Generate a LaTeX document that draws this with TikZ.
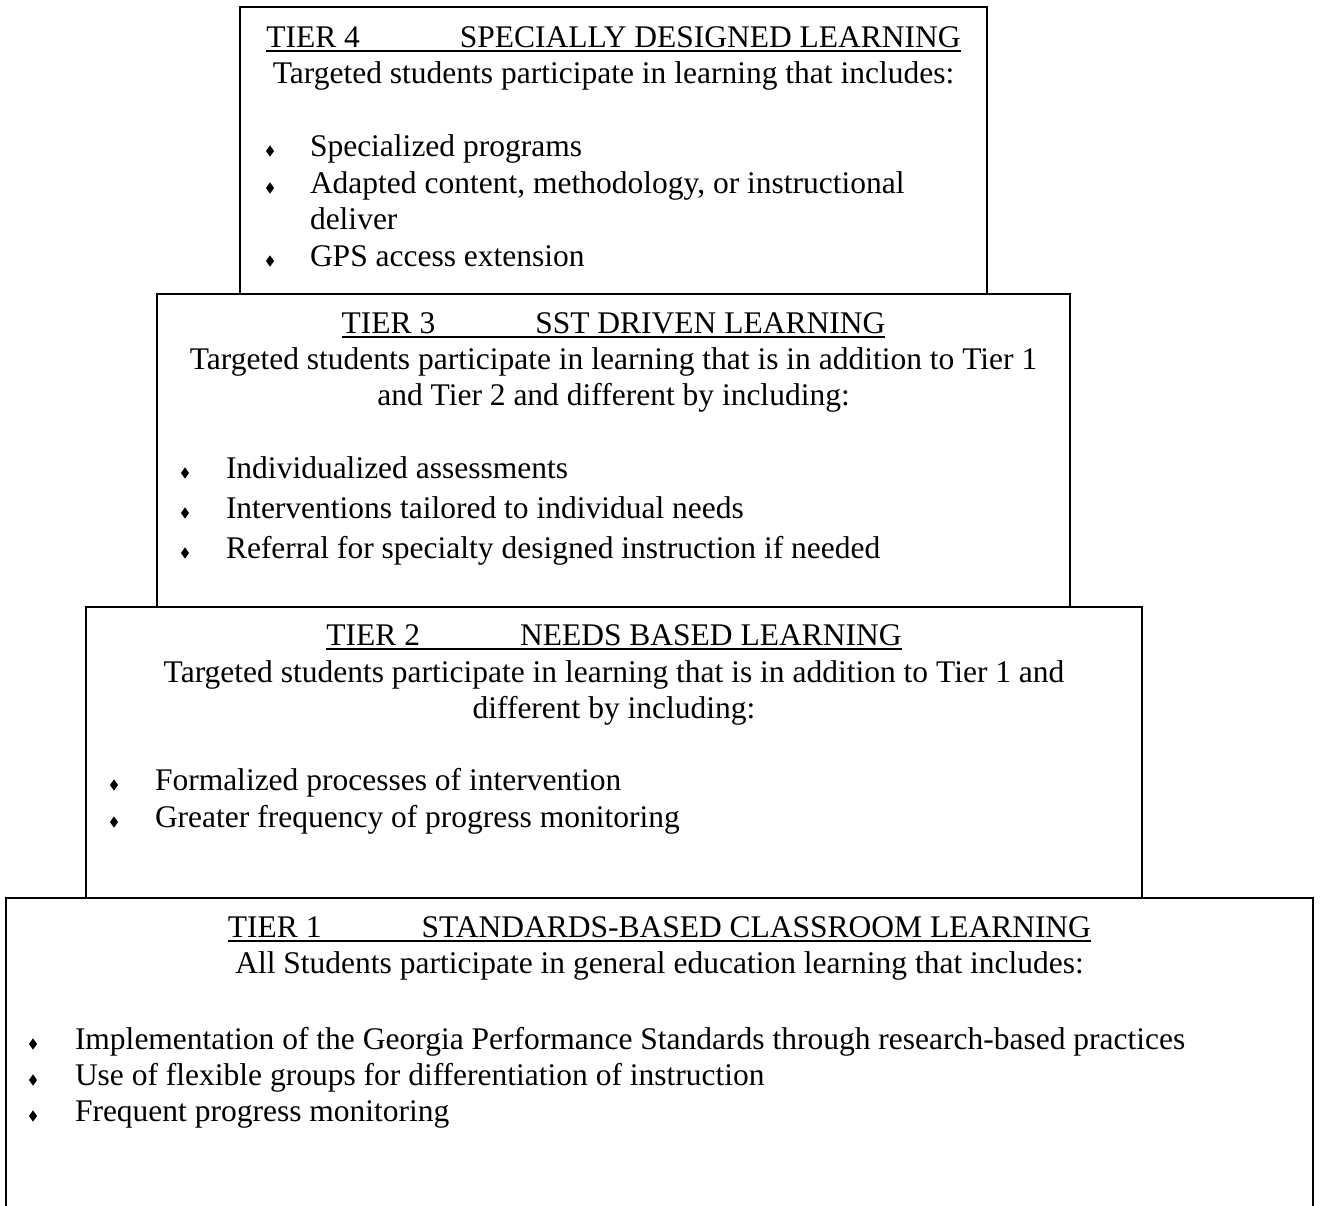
\documentclass[tikz,border=0pt]{standalone}
\usepackage{fontspec}
\setmainfont{Liberation Serif}
\usetikzlibrary{shapes.geometric}
\begin{document}
\begin{tikzpicture}[x=0.5pt,y=-0.5pt,
  tierbox/.style={draw=black,line width=1.3pt,fill=white},
  txt/.style={inner sep=0pt,outer sep=0pt,font=\fontsize{15.75}{18}\selectfont},
  bul/.style={diamond,fill=black,inner sep=0pt,minimum width=4.2pt,minimum height=5.8pt,draw=none},
  uline/.style={line width=1pt}]
\useasboundingbox (0,0) rectangle (1320,1205);
% boxes
\draw[tierbox] (240,7) rectangle (987,294);
\draw[tierbox] (157,294) rectangle (1070,607);
\draw[tierbox] (86,607) rectangle (1142,898);
\draw[tierbox] (6,1230) -- (6,898) -- (1313,898) -- (1313,1230);
% ---------- Tier 4
\node[txt,anchor=base] (t4) at (613.5,47) {TIER 4\hspace{50pt}SPECIALLY DESIGNED LEARNING};
\draw[uline] ([yshift=-2pt]t4.base west) -- ([yshift=-2pt]t4.base east);
\node[txt,anchor=base] (t4a) at (613.5,83) {Targeted students participate in learning that includes:};
\node[bul] (b41) at (270,151) {};
\node[txt,anchor=base west] (t41) at (310,156) {Specialized programs};
\node[bul] (b42) at (270,188) {};
\node[txt,anchor=base west] (t42) at (310,193) {Adapted content, methodology, or instructional};
\node[txt,anchor=base west] (t42b) at (310,229) {deliver};
\node[bul] (b43) at (270,261) {};
\node[txt,anchor=base west] (t43) at (310,266) {GPS access extension};
% ---------- Tier 3
\node[txt,anchor=base] (t3) at (613.5,333) {TIER 3\hspace{50pt}SST DRIVEN LEARNING};
\draw[uline] ([yshift=-2pt]t3.base west) -- ([yshift=-2pt]t3.base east);
\node[txt,anchor=base] (t3a) at (613.5,369) {Targeted students participate in learning that is in addition to Tier 1};
\node[txt,anchor=base] (t3b) at (613.5,405) {and Tier 2 and different by including:};
\node[bul] (b31) at (185,473) {};
\node[txt,anchor=base west] (t31) at (226,478) {Individualized assessments};
\node[bul] (b32) at (185,513) {};
\node[txt,anchor=base west] (t32) at (226,518) {Interventions tailored to individual needs};
\node[bul] (b33) at (185,553) {};
\node[txt,anchor=base west] (t33) at (226,558) {Referral for specialty designed instruction if needed};
% ---------- Tier 2
\node[txt,anchor=base] (t2) at (614,645) {TIER 2\hspace{50pt}NEEDS BASED LEARNING};
\draw[uline] ([yshift=-2pt]t2.base west) -- ([yshift=-2pt]t2.base east);
\node[txt,anchor=base] (t2a) at (614,682) {Targeted students participate in learning that is in addition to Tier 1 and};
\node[txt,anchor=base] (t2b) at (614,718) {different by including:};
\node[bul] (b21) at (114,785) {};
\node[txt,anchor=base west] (t21) at (155,790) {Formalized processes of intervention};
\node[bul] (b22) at (114,822) {};
\node[txt,anchor=base west] (t22) at (155,827) {Greater frequency of progress monitoring};
% ---------- Tier 1
\node[txt,anchor=base] (t1) at (659.5,937) {TIER 1\hspace{50pt}STANDARDS-BASED CLASSROOM LEARNING};
\draw[uline] ([yshift=-2pt]t1.base west) -- ([yshift=-2pt]t1.base east);
\node[txt,anchor=base] (t1a) at (659.5,973) {All Students participate in general education learning that includes:};
\node[bul] (b11) at (33,1044) {};
\node[txt,anchor=base west] (t11) at (75,1049) {Implementation of the Georgia Performance Standards through research-based practices};
\node[bul] (b12) at (33,1080) {};
\node[txt,anchor=base west] (t12) at (75,1085) {Use of flexible groups for differentiation of instruction};
\node[bul] (b13) at (33,1116) {};
\node[txt,anchor=base west] (t13) at (75,1121) {Frequent progress monitoring};
\end{tikzpicture}
\end{document}
